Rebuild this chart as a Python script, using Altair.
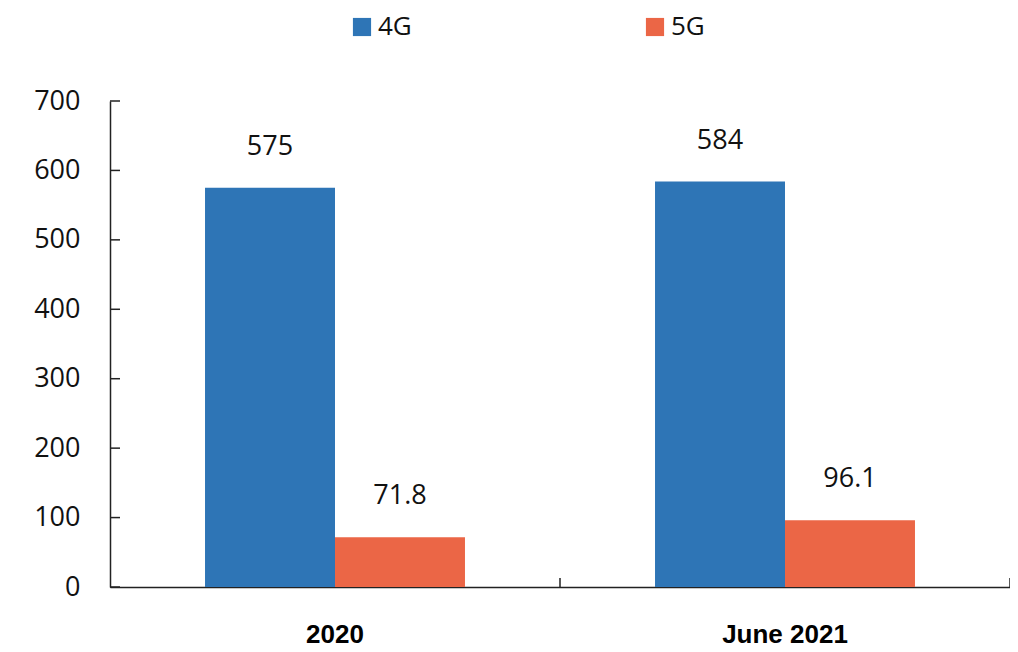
import altair as alt
import pandas as pd

categories = ["2020", "June 2021"]
series = ["4G", "5G"]
values_4g = [575, 584]
values_5g = [71.8, 96.1]
y_ticks = [0, 100, 200, 300, 400, 500, 600, 700]
colors = ["#2E75B6", "#EB6646"]

rows = []
for i, c in enumerate(categories):
    rows.append({"cat": c, "series": "4G", "value": values_4g[i]})
    rows.append({"cat": c, "series": "5G", "value": values_5g[i]})
df = pd.DataFrame(rows)
cat_df = pd.DataFrame({"cat": categories})
tick_df = pd.DataFrame({"v": y_ticks})

W, H = 900, 486

x_enc = alt.X("cat:N", sort=categories, title=None,
              scale=alt.Scale(paddingInner=0, paddingOuter=0),
              axis=alt.Axis(ticks=False, labelAngle=0, labelFont="Liberation Sans",
                            labelFontWeight="bold", labelFontSize=26, labelColor="#000",
                            labelBaseline="alphabetic", labelPadding=55,
                            domainColor="#222", domainWidth=1.5))
y_scale = alt.Scale(domain=[0, 700])
xo = alt.XOffset("series:N", sort=series,
                 scale=alt.Scale(paddingOuter=0.731, paddingInner=0))

bars = alt.Chart(df).mark_bar().encode(
    x=x_enc,
    xOffset=xo,
    y=alt.Y("value:Q", scale=y_scale, title=None,
            axis=alt.Axis(values=y_ticks, ticks=False, grid=False, labelFont="Open Sans",
                          labelFontSize=27, labelColor="#111", labelPadding=30,
                          domainColor="#222", domainWidth=1.5)),
    color=alt.Color("series:N", sort=series,
                    scale=alt.Scale(domain=series, range=colors),
                    legend=alt.Legend(title=None, orient="none", direction="horizontal",
                                      legendX=239, legendY=-87, symbolType="square",
                                      symbolSize=330, symbolStrokeWidth=0,
                                      labelFont="Open Sans", labelFontSize=26,
                                      labelColor="#111", labelOffset=3, labelLimit=200,
                                      columnPadding=230)),
)

labels = alt.Chart(df).mark_text(font="Open Sans", fontSize=27, color="#111",
                                 baseline="bottom", dy=-27).encode(
    x=alt.X("cat:N", sort=categories),
    xOffset=xo,
    y=alt.Y("value:Q", scale=y_scale),
    text=alt.Text("value:Q"),
)

xticks = alt.Chart(cat_df).mark_rule(color="#222", strokeWidth=1.5).encode(
    x=alt.X("cat:N", sort=categories, bandPosition=1),
    y=alt.value(H - 9),
    y2=alt.value(H),
)

yticks = alt.Chart(tick_df).mark_rule(color="#222", strokeWidth=1.5).encode(
    y=alt.Y("v:Q", scale=y_scale),
    x=alt.value(0),
    x2=alt.value(10),
)

chart = alt.layer(bars, labels, xticks, yticks).properties(
    width=W, height=H,
    autosize=alt.AutoSizeParams(type="none"),
    padding={"left": 102, "top": 93, "right": 0, "bottom": 61},
).configure_view(stroke=None).configure_axis(grid=False)

chart.save("out.html", embed_options={"renderer": "svg", "actions": False})
